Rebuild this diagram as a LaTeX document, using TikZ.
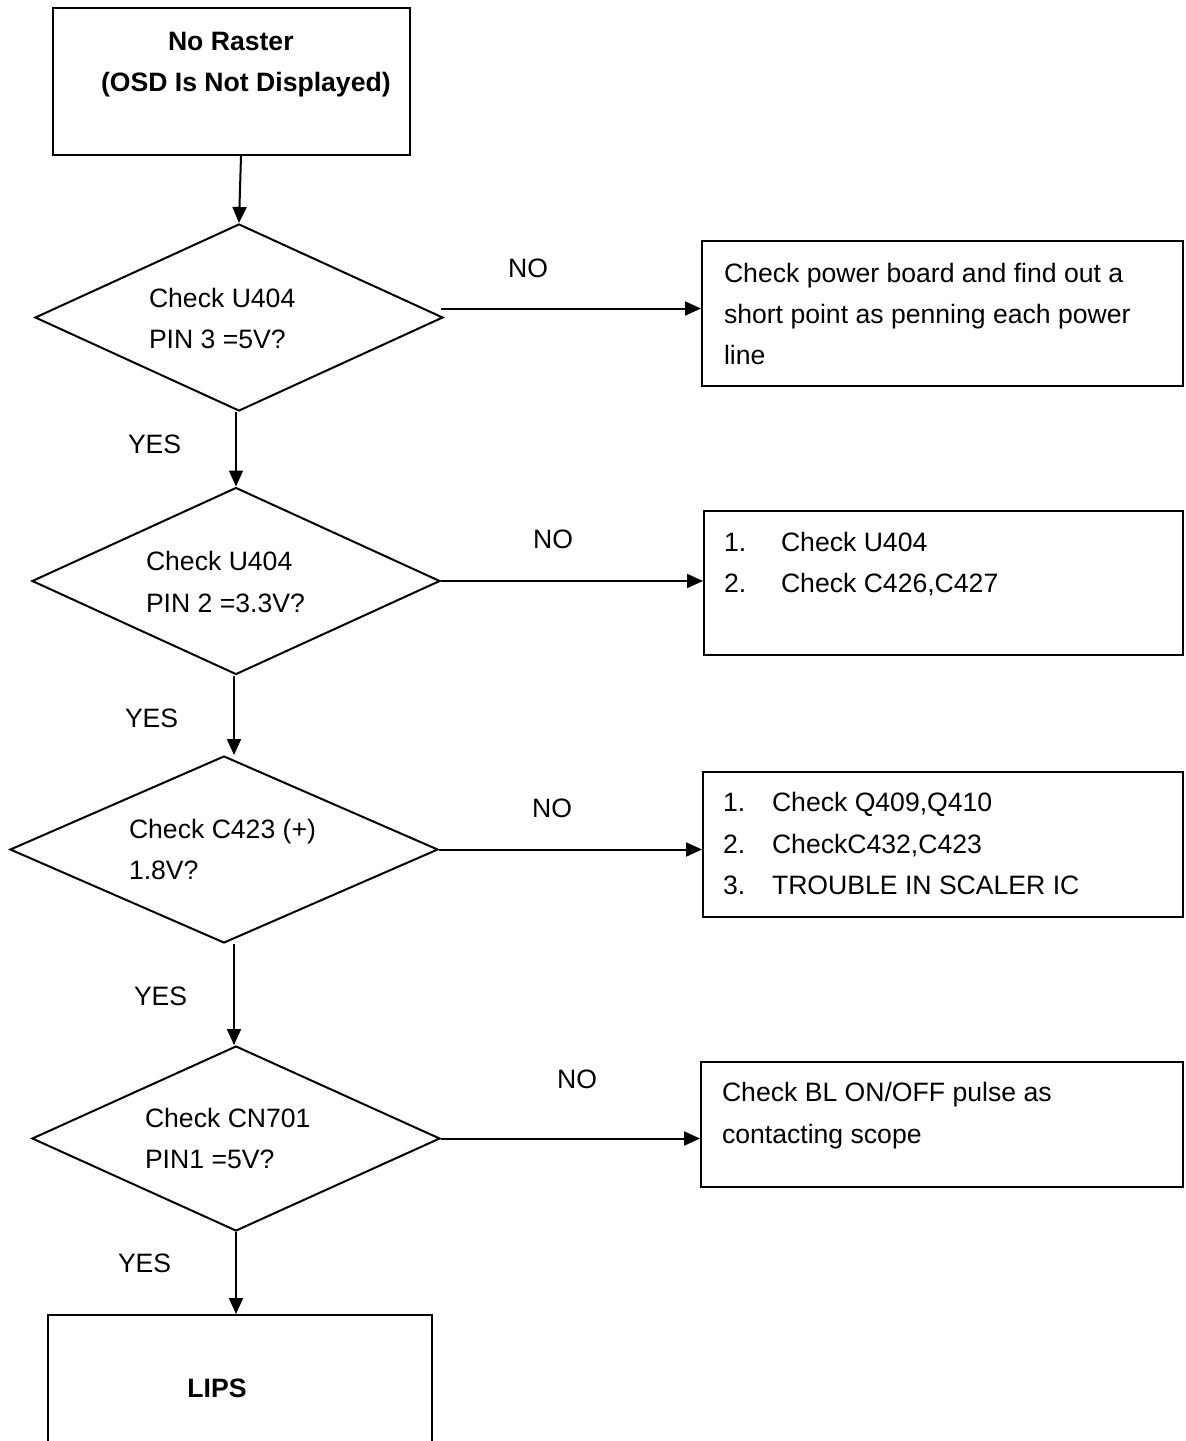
\documentclass[tikz,border=0pt]{standalone}
\usepackage{fontspec}
\setmainfont{Liberation Sans}
\usetikzlibrary{arrows.meta,shapes.geometric,calc}
\begin{document}
\begin{tikzpicture}[x=0.5pt,y=-0.5pt,
  line width=1pt,
  box/.style={draw,rectangle,inner sep=0,anchor=north west},
  dec/.style={draw,diamond,inner sep=0},
  txt/.style={anchor=base west,inner sep=0,font=\fontsize{13.3}{16}\selectfont},
  btxt/.style={anchor=base west,inner sep=0,font=\fontsize{13.3}{16}\selectfont\bfseries},
  lbl/.style={anchor=base,inner sep=0,font=\fontsize{13.3}{16}\selectfont},
  arr/.style={-{Triangle[length=8pt,width=7pt]}}
]
\useasboundingbox (0,0) rectangle (1185,1441);
\clip (0,0) rectangle (1185,1441);

% boxes
\node[box,minimum width=178.5pt,minimum height=73.5pt] (b1) at (52,7) {};
\node[box,minimum width=240.5pt,minimum height=72.5pt] (b2) at (701,240) {};
\node[box,minimum width=239.5pt,minimum height=72pt] (b3) at (703,510) {};
\node[box,minimum width=240pt,minimum height=72.5pt] (b4) at (702,771) {};
\node[box,minimum width=241pt,minimum height=62.5pt] (b5) at (700,1061) {};
\node[box,minimum width=192pt,minimum height=100pt] (b6) at (47,1314) {};

% decisions
\node[dec,minimum width=204pt,minimum height=93.5pt] (d1) at (239,317.5) {};
\node[dec,minimum width=204pt,minimum height=93.5pt] (d2) at (236,581) {};
\node[dec,minimum width=214pt,minimum height=93.5pt] (d3) at (224,849.5) {};
\node[dec,minimum width=204pt,minimum height=92.5pt] (d4) at (236,1138.5) {};

% texts
\node[btxt] (t1a) at (167,50) {No Raster};
\node[btxt] (t1b) at (100,91) {(OSD Is Not Displayed)};

\node[txt] (q1a) at (148,307) {Check U404};
\node[txt] (q1b) at (148,348) {PIN 3 =5V?};
\node[txt] (q2a) at (145,570) {Check U404};
\node[txt] (q2b) at (145,612) {PIN 2 =3.3V?};
\node[txt] (q3a) at (128,838) {Check C423 (+)};
\node[txt] (q3b) at (128,879) {1.8V?};
\node[txt] (q4a) at (144,1127) {Check CN701};
\node[txt] (q4b) at (144,1168) {PIN1 =5V?};

\node[txt] (r1a) at (723,282) {Check power board and find out a};
\node[txt] (r1b) at (723,323) {short point as penning each power};
\node[txt] (r1c) at (723,364) {line};

\node[txt] (r2n1) at (723,551) {1.};
\node[txt] (r2a) at (780,551) {Check U404};
\node[txt] (r2n2) at (723,592) {2.};
\node[txt] (r2b) at (780,592) {Check C426,C427};

\node[txt] (r3n1) at (722,811) {1.};
\node[txt] (r3a) at (771,811) {Check Q409,Q410};
\node[txt] (r3n2) at (722,853) {2.};
\node[txt] (r3b) at (771,853) {CheckC432,C423};
\node[txt] (r3n3) at (722,894) {3.};
\node[txt] (r3c) at (771,894) {TROUBLE IN SCALER IC};

\node[txt] (r4a) at (721,1101) {Check BL ON/OFF pulse as};
\node[txt] (r4b) at (721,1143) {contacting scope};

\node[lbl,font=\fontsize{13.3}{16}\selectfont\bfseries] (t6) at (217,1397) {LIPS};

% labels
\node[txt] (y1) at (127,453) {YES};
\node[txt] (y2) at (124,727) {YES};
\node[txt] (y3) at (133,1005) {YES};
\node[txt] (y4) at (117,1272) {YES};
\node[lbl] (n1) at (528,277) {NO};
\node[lbl] (n2) at (553,548) {NO};
\node[lbl] (n3) at (552,817) {NO};
\node[lbl] (n4) at (577,1088) {NO};

% connectors
\draw[arr] ($(b1.south west)+(189,0)$) -- (d1.north);
\draw[arr] ($(d1.east)+(-3,-9)$) coordinate (s1) -- (s1 -| b2.west);
\draw[arr] (d2.north |- d1.south) -- (d2.north);
\draw[arr] (d2.east) -- (d2.east -| b3.west);
\draw[arr] ($(d2.south)+(-2,0)$) coordinate (s2) -- (s2 |- d3.north);
\draw[arr] (d3.east) -- (d3.east -| b4.west);
\draw[arr] ($(d3.south)+(10,0)$) coordinate (s3) -- (s3 |- d4.north);
\draw[arr] (d4.east) -- (d4.east -| b5.west);
\draw[arr] (d4.south) -- (d4.south |- b6.north);
\end{tikzpicture}
\end{document}
